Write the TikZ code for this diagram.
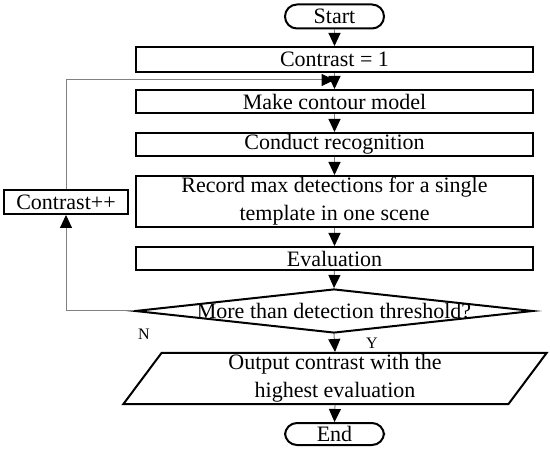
\documentclass[tikz,border=0pt]{standalone}
\usepackage{fontspec}
\setmainfont{Liberation Serif}
\usetikzlibrary{arrows.meta,shapes.geometric}

\begin{document}
\begin{tikzpicture}[x=0.5pt,y=-0.5pt,every node/.style={font=\fontsize{11}{14}\selectfont,inner sep=0pt},
box/.style={draw,line width=1pt,minimum width=198.5pt,minimum height=11.5pt,align=center},
term/.style={draw,line width=1pt,rounded corners=6pt,minimum width=49.5pt,minimum height=12pt},
flow/.style={draw=gray,line width=.5pt,-{Triangle[length=6.5pt,width=6pt,color=black]}},
yn/.style={font=\fontsize{8}{9}\selectfont}]
\useasboundingbox (0,0) rectangle (550,453);
\node[term] (start) at (334.5,16.5) {Start};
\node[box,minimum height=12.5pt] (c1) at (334.5,59.5) {Contrast = 1};
\node[box] (mcm) at (334.5,101.5) {Make contour model};
\node[box] (rec) at (334.5,144.5) {Conduct recognition};
\node[box,minimum height=25.5pt] (rmd) at (334.5,201.5) {Record max detections for a single\\template in one scene};
\node[box] (ev) at (334.5,258.5) {Evaluation};
\node[draw,line width=1pt,diamond,aspect=9,inner xsep=-12pt,minimum width=199pt,minimum height=22pt] (dec) at (334,311) {More than detection threshold?};
\node[draw,line width=1pt,trapezium,trapezium left angle=64,trapezium right angle=116,trapezium stretches=true,
  minimum width=212pt,minimum height=25.5pt,align=center] (out) at (335,378.5) {Output contrast with the\\highest evaluation};
\node[term,minimum height=11pt] (stop) at (334.5,434) {End};
\node[box,minimum width=62pt,minimum height=12pt] (cpp) at (66,202) {Contrast++};
\coordinate (lp) at (334.5,80);
\foreach \a/\b in {start/c1,c1/mcm,mcm/rec,rec/rmd,rmd/ev,ev/dec,dec/out,out/stop}
  \draw[flow] (\a.south)--(\b.north);
\draw[flow] (dec.west) -| (cpp.south);
\draw[flow] (cpp.north) |- (lp);
\node[yn] (n) at (144,334) {N};
\node[yn] (y) at (372,343) {Y};
\end{tikzpicture}
\end{document}
